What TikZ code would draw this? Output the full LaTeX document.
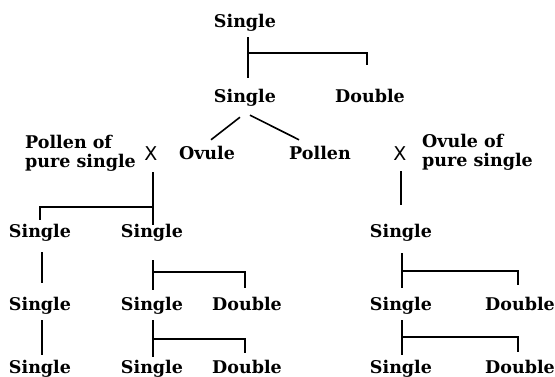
\documentclass[tikz,border=0pt]{standalone}
\usepackage{fontspec}
\setmainfont{DejaVu Serif}
\newfontfamily\crossfont{DejaVu Sans}
\begin{document}
\begin{tikzpicture}[x=1pt,y=-1pt,
  lbl/.style={font=\bfseries\fontsize{17.5}{17}\selectfont, inner sep=0pt, anchor=base,
              text height=13pt, text depth=4pt},
  two/.style={font=\bfseries\fontsize{17.5}{17}\selectfont, inner sep=0pt, anchor=base west},
  cross/.style={font=\crossfont\fontsize{19}{19}\selectfont, inner sep=0pt, anchor=base,
              text height=13pt, text depth=4pt},
  ln/.style={line width=1.6pt}]
\useasboundingbox (0,0) rectangle (555,377);
% row 1-2
\node[lbl] (t1) at (245,28) {Single};
\node[lbl] (t2) at (245,103) {Single};
\node[lbl] (d2) at (370,103) {Double};
% row 3
\node[two] (pl) at (25,149) {\begin{tabular}[t]{@{}l@{}}Pollen of\\pure single\end{tabular}};
\node[cross] (xl) at (151,161) {X};
\node[lbl] (ov) at (207,160) {Ovule};
\node[lbl] (po) at (320,160) {Pollen};
\node[cross] (xr) at (400,161) {X};
\node[two] (ol) at (422,148) {\begin{tabular}[t]{@{}l@{}}Ovule of\\pure single\end{tabular}};
% row 4
\node[lbl] (l4) at (40,238) {Single};
\node[lbl] (m4) at (152,238) {Single};
\node[lbl] (r4) at (401,238) {Single};
% row 5
\node[lbl] (l5) at (40,310) {Single};
\node[lbl] (m5) at (152,310) {Single};
\node[lbl] (md5) at (247,310) {Double};
\node[lbl] (r5) at (401,310) {Single};
\node[lbl] (rd5) at (520,310) {Double};
% row 6
\node[lbl] (l6) at (40,373) {Single};
\node[lbl] (m6) at (152,373) {Single};
\node[lbl] (md6) at (247,373) {Double};
\node[lbl] (r6) at (401,373) {Single};
\node[lbl] (rd6) at (520,373) {Double};
% connectors
\draw[ln] ([xshift=3pt,yshift=-5pt]t1.south) -- ([xshift=3pt,yshift=12pt]t2.north);
\draw[ln] ([xshift=3pt,yshift=-21pt]t1.south) -| ([xshift=-3pt,yshift=25pt]d2.north);
\draw[ln] ([xshift=-5pt,yshift=-10pt]t2.south) -- ([xshift=4pt,yshift=7pt]ov.north);
\draw[ln] ([xshift=5pt,yshift=-8pt]t2.south) -- ([xshift=10pt,yshift=7pt]po.north west);
% left cross
\draw[ln] ([xshift=2pt,yshift=-7pt]xl.south) -- ([xshift=1pt]m4.north);
\draw[ln] ([xshift=2pt,yshift=-42pt]xl.south) -| ([yshift=5pt]l4.north);
% right cross
\draw[ln] ([xshift=1pt,yshift=-6pt]xr.south) -- ([yshift=20pt]r4.north);
% left column
\draw[ln] ([xshift=2pt,yshift=-10pt]l4.south) -- ([xshift=2pt,yshift=14pt]l5.north);
\draw[ln] ([xshift=2pt,yshift=-6pt]l5.south) -- ([xshift=2pt,yshift=5pt]l6.north);
% middle column
\draw[ln] ([xshift=1pt,yshift=-18pt]m4.south) -- ([xshift=1pt,yshift=7pt]m5.north);
\draw[ln] ([xshift=1pt,yshift=-30pt]m4.south) -| ([xshift=-2pt,yshift=9pt]md5.north);
\draw[ln] ([xshift=1pt,yshift=-6pt]m5.south) -- ([xshift=1pt,yshift=3pt]m6.north);
\draw[ln] ([xshift=1pt,yshift=-25pt]m5.south) -| ([xshift=-2pt,yshift=7pt]md6.north);
% right column
\draw[ln] ([xshift=1pt,yshift=-11pt]r4.south) -- ([xshift=1pt,yshift=9pt]r5.north);
\draw[ln] ([xshift=1pt,yshift=-29pt]r4.south) -| ([xshift=-2pt,yshift=12pt]rd5.north);
\draw[ln] ([xshift=1pt,yshift=-6pt]r5.south) -- ([xshift=1pt,yshift=5pt]r6.north);
\draw[ln] ([xshift=1pt,yshift=-23pt]r5.south) -| ([xshift=-2pt,yshift=8pt]rd6.north);
\end{tikzpicture}
\end{document}
